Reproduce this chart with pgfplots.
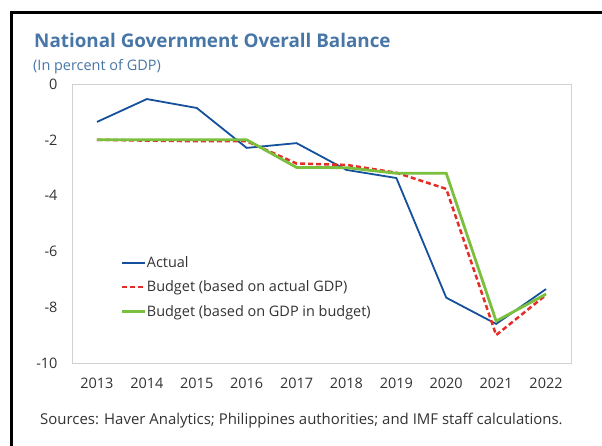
\documentclass[border=0pt]{standalone}
\usepackage{fontspec}
\setmainfont{Open Sans}
\usepackage{pgfplots}
\pgfplotsset{compat=1.18}
\definecolor{titleblue}{RGB}{72,118,166}
\definecolor{actblue}{RGB}{20,80,155}
\definecolor{budred}{RGB}{228,45,38}
\definecolor{budgreen}{RGB}{122,192,60}
\definecolor{txt}{RGB}{50,50,50}
\begin{document}
\begin{tikzpicture}[x=1bp,y=1bp]
\useasboundingbox (0,0) rectangle (602,446);
\draw[line width=3bp,black] (11,0) -- (11,433) -- (603,433);
\node[anchor=base west,inner sep=0,text=titleblue,font=\fontsize{18.9}{21}\selectfont\bfseries] at (34,398) {National Government Overall Balance};
\node[anchor=base west,inner sep=0,text=titleblue,font=\fontsize{14.5}{16}\selectfont] at (33,375) {(In percent of GDP)};
\node[anchor=base west,inner sep=0,text=txt,font=\fontsize{15}{17}\selectfont] at (40,21) {Sources: Haver Analytics; Philippines authorities; and IMF staff calculations.};
\begin{axis}[
  at={(72bp,83bp)}, anchor=south west,
  scale only axis, width=499bp, height=279bp,
  xmin=2012.5, xmax=2022.5, ymin=-10, ymax=0,
  xtick={2013,...,2022}, ytick={-10,-8,...,0},
  major tick length=0pt,
  axis line style={black!18},
  tick label style={font=\fontsize{14.5}{16}\selectfont, text=txt},
  /pgf/number format/assume math mode=true,
  x tick label style={/pgf/number format/1000 sep={}, yshift=-12bp},
  y tick label style={xshift=-11bp},
  legend cell align=left,
  legend style={at={(axis description cs:0.096,0.386)}, anchor=north west, draw=none, fill=none,
    font=\fontsize{14.5}{16}\selectfont, text=txt, row sep=10bp, inner sep=0pt,
    nodes={inner sep=1bp}},
  legend image code/.code={\draw[#1] (0bp,0bp) -- (23bp,0bp);},
]
\addplot[actblue, line width=1.8bp] coordinates {
(2013,-1.36) (2014,-0.54) (2015,-0.86) (2016,-2.29) (2017,-2.12) (2018,-3.08) (2019,-3.37) (2020,-7.66) (2021,-8.6) (2022,-7.35)};
\addlegendentry{Actual}
\addplot[budred, line width=2.5bp, dash pattern=on 5bp off 3bp] coordinates {
(2013,-2.0) (2014,-2.03) (2015,-2.05) (2016,-2.05) (2017,-2.85) (2018,-2.9) (2019,-3.18) (2020,-3.76) (2021,-9.0) (2022,-7.56)};
\addlegendentry{Budget (based on actual GDP)}
\addplot[budgreen, line width=2.8bp] coordinates {
(2013,-2.0) (2014,-2.0) (2015,-2.0) (2016,-2.0) (2017,-2.99) (2018,-3.0) (2019,-3.2) (2020,-3.2) (2021,-8.5) (2022,-7.53)};
\addlegendentry{Budget (based on GDP in budget)}
\end{axis}
\end{tikzpicture}
\end{document}
